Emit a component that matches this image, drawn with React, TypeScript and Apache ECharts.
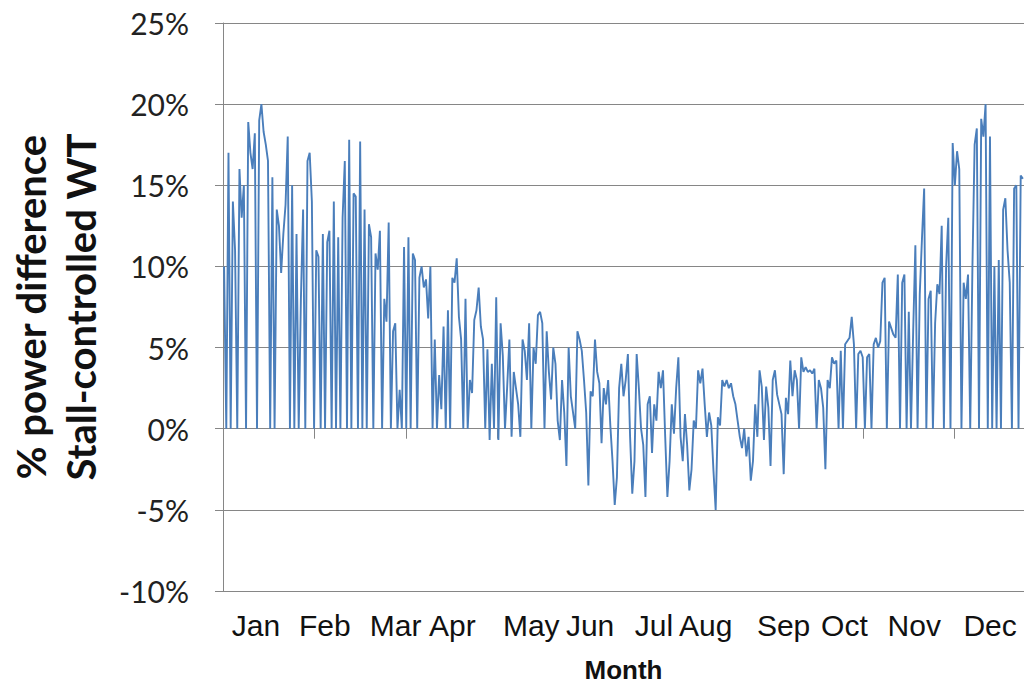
import React, { useEffect, useRef } from "react";
import * as echarts from "echarts";

// Month captions and the hour of the year each caption is centred on
const monthNames = ["Jan", "Feb", "Mar", "Apr", "May", "Jun", "Jul", "Aug", "Sep", "Oct", "Nov", "Dec"];
const monthLabelHours = [360, 1113, 1887, 2509, 3371, 4015, 4713, 5280, 6131, 6796, 7560, 8389];

// Y axis range (percent)
const yMin = -10;
const yMax = 25;
const yStep = 5;
const hoursInYear = 8760;
const hourTickStep = 1000;

// Daily power difference of the stall-controlled WT, % (0 = no record)
const dailyDiff = [
  10, 0, 17, 0, 14, 11, 0, 16, 13, 15,
  0, 18.9, 17, 16, 18.2, 0, 19, 20, 18.3, 17.5,
  16.5, 0, 15.5, 0, 13.5, 12.5, 9.6, 12, 13.8, 18,
  0, 15, 0, 12, 0, 8, 13.5, 0, 16.5, 17,
  14, 0, 11, 10.6, 0, 12, 0, 11.5, 12.2, 0,
  14, 0, 11.8, 0, 13, 16.5, 0, 17.8, 0, 14.5,
  14.3, 0, 17.7, 0, 13.5, 0, 12.6, 11.8, 0, 10.8,
  9.8, 12.2, 0, 8, 6.6, 12.7, 0, 6, 6.5, 0,
  2.4, 0, 11.2, 0, 11.8, 0, 10.8, 10.4, 0, 9.3,
  10, 8.7, 9.2, 6.8, 10, 0, 5.5, 0, 3.3, 1.2,
  6.3, 0, 7.3, 0, 9.3, 9, 10.5, 6.9, 5.5, 0,
  8, 0, 3, 2.2, 6.7, 7.3, 8.7, 6.3, 5.5, 0,
  4.9, -0.7, 4, 0, 8.1, -0.7, 6.5, 4.5, 0, 2.6,
  5.5, -0.5, 3.5, 2.5, 1.5, -0.5, 5.5, 4.8, 3, 6.5,
  0, 5, 4, 7, 7.2, 6.5, 0, 6, 3.5, 1.8,
  5, 4, 0.5, -0.7, 3, 1, -2.3, 5, 2, 1,
  0, 6, 5.5, 4.8, 3, 1, -3.5, 2.3, 2, 5.5,
  3.5, 2.8, -0.9, 2.5, 1.5, 3, 0.2, -2, -4.7, -3,
  2.5, 4, 2, 3, 4.6, -0.5, -4, -2, 4.6, 2.5,
  0, -1, -4.2, 1.5, 2, -1.5, 1.5, 0.5, 3.5, 2.5,
  3.6, -0.5, -4.2, -2, 1.5, -0.3, 2.5, 4.4, -0.5, -2,
  0.9, -1, -3.8, -2.5, 0.5, 0, 3.6, 2.8, 3.7, 1.5,
  -0.5, 1, 0.2, -2.6, -5, 0.7, 0.2, 3, 2.6, 3,
  2.5, 2.8, 2, 1.5, 0.5, -0.5, -1.2, 0, -1.7, -0.5,
  -3.2, -2, 1.5, -0.5, 3.6, 2.6, -0.7, 2.6, 1.3, -2.3,
  3, 3.6, 2.1, 1.5, 0.9, -2.8, 1.9, 0.9, 4.2, 2,
  3.6, 3, 0, 4.4, 3.5, 3.8, 3.5, 3.6, 3.4, 3.7,
  0, 3, 2.5, 1.3, -2.5, 3, 2.5, 4.4, 4, 4.2,
  0, 4.8, 0, 5.2, 5.4, 5.6, 6.9, 5.2, 0, 4.6,
  4.8, 4.4, 0, 4.4, 4.6, 0, 5.2, 5.6, 5, 5.4,
  9, 9.3, 0, 6.6, 6.2, 5.8, 5.6, 9.5, 0, 9,
  9.5, 0, 7.2, 0, 6, 11.3, 0, 8.3, 11.7, 14.8,
  0, 8, 8.5, 0, 6.5, 8.9, 8.3, 12.5, 0, 10,
  13, 0, 17.6, 15, 17.1, 16, 0, 9, 8, 9.5,
  0, 10, 17.5, 18.5, 0, 19.1, 18, 20, 0, 18,
  0, 10, 0, 10.4, 0, 13.5, 14.2, 11, 9, 0,
  14.8, 15, 0, 15.6, 15.4,
];

const axisGrey = "#868686";
const lineBlue = "#4a7ebb";

export default function App() {
  const ref = useRef<HTMLDivElement>(null);

  useEffect(() => {
    if (!ref.current) return;
    const chart = echarts.init(ref.current, null, { renderer: "svg" });

    // each daily value sits in the middle of its day on the hour-of-year axis
    const seriesData = dailyDiff.map((v, i) => [i * 24 + 12, v]);

    chart.setOption({
      animation: false,
      backgroundColor: "#ffffff",
      grid: { left: 223, top: 23, width: 803, height: 573, containLabel: false },
      xAxis: [
        {
          type: "value",
          min: 0,
          max: hoursInYear,
          interval: hourTickStep,
          position: "bottom",
          axisLine: { show: true, onZero: true, lineStyle: { color: axisGrey, width: 1 } },
          axisTick: { show: true, length: 10, lineStyle: { color: axisGrey, width: 1 } },
          axisLabel: { show: false },
          splitLine: { show: false },
        },
        {
          type: "value",
          min: 0,
          max: hoursInYear,
          position: "bottom",
          axisLine: {
            show: true,
            onZero: false,
            lineStyle: {
              color: "#8a8a8a",
              width: 2,
              shadowColor: "rgba(0,0,0,0.25)",
              shadowBlur: 3,
              shadowOffsetY: 2,
            },
          },
          axisTick: { show: false },
          axisLabel: {
            show: true,
            customValues: monthLabelHours,
            formatter: (v: number) => {
              const idx = monthLabelHours.indexOf(v);
              return idx >= 0 ? monthNames[idx] : "";
            },
            fontFamily: "Liberation Sans, Arial, sans-serif",
            fontSize: 30,
            color: "#111111",
            margin: 19,
          },
          splitLine: { show: false },
          name: "Month",
          nameLocation: "middle",
          nameGap: 66,
          nameTextStyle: {
            fontFamily: "Liberation Sans, Arial, sans-serif",
            fontWeight: "bold",
            fontSize: 26,
            color: "#111111",
          },
        },
      ],
      yAxis: {
        type: "value",
        min: yMin,
        max: yMax,
        interval: yStep,
        axisLine: { show: true, onZero: false, lineStyle: { color: axisGrey, width: 1 } },
        axisTick: { show: true, length: 8, lineStyle: { color: axisGrey, width: 1 } },
        axisLabel: {
          formatter: "{value}%",
          fontFamily: "Lato, sans-serif",
          fontSize: 30,
          color: "#222222",
          margin: 34,
        },
        splitLine: { show: true, lineStyle: { color: axisGrey, width: 1 } },
      },
      graphic: [
        {
          type: "text",
          x: 56,
          y: 307,
          rotation: Math.PI / 2,
          style: {
            text: "% power difference\nStall-controlled WT",
            fontFamily: "Lato, sans-serif",
            fontWeight: "bold",
            fontSize: 40,
            lineHeight: 50,
            fill: "#111111",
            align: "center",
            verticalAlign: "middle",
          },
        },
      ],
      series: [
        {
          type: "line",
          xAxisIndex: 0,
          data: seriesData,
          showSymbol: false,
          symbol: "none",
          lineStyle: { color: lineBlue, width: 1.9 },
        },
      ],
    });

    return () => chart.dispose();
  }, []);

  return (
    <div
      ref={ref}
      style={{
        position: "absolute",
        left: 0,
        top: 0,
        width: 1024,
        height: 688,
        overflow: "hidden",
        background: "#ffffff",
      }}
    />
  );
}
